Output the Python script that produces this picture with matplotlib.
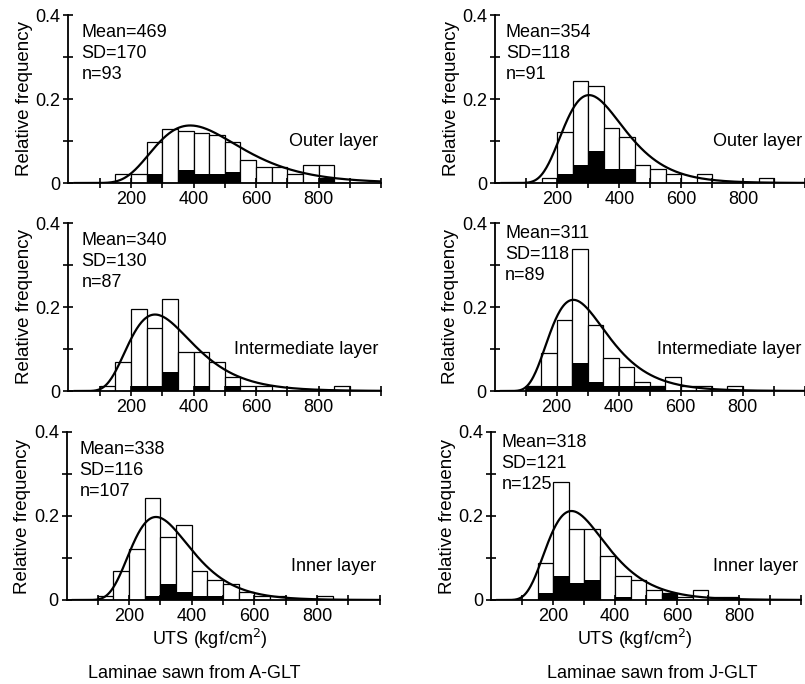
import numpy as np
import matplotlib
matplotlib.use("Agg")
import matplotlib.pyplot as plt

plt.rcParams['font.family'] = ['Liberation Sans', 'DejaVu Sans']

# bin starts, 50 kgf/cm2 wide
bins = [100, 150, 200, 250, 300, 350, 400, 450, 500, 550, 600, 650, 700, 750, 800, 850, 900]

# A-GLT, outer layer
a_outer_total = [0, 0.0215, 0.0215, 0.097, 0.129, 0.125, 0.118, 0.115, 0.097, 0.054, 0.038, 0.038, 0.0215, 0.043, 0.043, 0, 0]
a_outer_black = [0, 0, 0, 0.0215, 0, 0.032, 0.0215, 0.0215, 0.027, 0, 0, 0, 0, 0, 0.0108, 0, 0]
# J-GLT, outer layer
j_outer_total = [0, 0.011, 0.121, 0.242, 0.231, 0.132, 0.110, 0.044, 0.033, 0.022, 0, 0.022, 0, 0, 0, 0.011, 0]
j_outer_black = [0, 0, 0.022, 0.044, 0.077, 0.033, 0.033, 0, 0, 0, 0, 0, 0, 0, 0, 0, 0]
# A-GLT, intermediate layer
a_inter_total = [0.0115, 0.069, 0.195, 0.149, 0.218, 0.092, 0.092, 0.069, 0.0345, 0.0115, 0.0115, 0, 0, 0, 0, 0.0115, 0]
a_inter_black = [0, 0, 0.0115, 0.0115, 0.046, 0, 0.0115, 0, 0.0115, 0, 0, 0, 0, 0, 0, 0, 0]
# J-GLT, intermediate layer
j_inter_total = [0.011, 0.090, 0.169, 0.337, 0.157, 0.079, 0.056, 0.0225, 0.011, 0.034, 0.011, 0.011, 0, 0.011, 0, 0, 0]
j_inter_black = [0.011, 0.011, 0.011, 0.067, 0.0225, 0.011, 0.011, 0.011, 0.011, 0, 0, 0, 0, 0, 0, 0, 0]
# A-GLT, inner layer
a_inner_total = [0.0093, 0.070, 0.121, 0.243, 0.1495, 0.178, 0.070, 0.047, 0.037, 0.0187, 0.0093, 0.0093, 0, 0, 0.0093, 0, 0]
a_inner_black = [0, 0, 0, 0.0093, 0.037, 0.0187, 0.0093, 0.0093, 0, 0, 0, 0, 0, 0, 0, 0, 0]
# J-GLT, inner layer
j_inner_total = [0, 0.088, 0.280, 0.168, 0.168, 0.104, 0.056, 0.048, 0.024, 0.016, 0.008, 0.024, 0.008, 0.008, 0, 0, 0]
j_inner_black = [0, 0.016, 0.056, 0.040, 0.048, 0, 0.008, 0, 0, 0.016, 0, 0, 0, 0, 0, 0, 0]

# stats printed in each panel: mean, SD, n
a_stats = [(469, 170, 93), (340, 130, 87), (338, 116, 107)]
j_stats = [(354, 118, 91), (311, 118, 89), (318, 121, 125)]
# fitted curve peak relative to a plain log-normal of mean/SD
a_fit_scale = [1.0, 1.0, 1.0]
j_fit_scale = [1.085, 1.085, 1.085]
layer_names = ['Outer layer', 'Intermediate layer', 'Inner layer']
layer_y = [0.1, 0.098, 0.08]

W, H = 805, 684
fig = plt.figure(figsize=(W / 100, H / 100), dpi=100)


def lognormal_fit(x, mean, sd, width=50):
    # log-normal with the given mean and SD, scaled to relative frequency per bin
    s2 = np.log(1 + (sd / mean) ** 2)
    mu = np.log(mean) - s2 / 2
    return width * np.exp(-(np.log(x) - mu) ** 2 / (2 * s2)) / (x * np.sqrt(2 * np.pi * s2))


def panel(x0, y0, w, total, black, stats, fit_scale, name, ny, text_x, text_y):
    # x0: pixel of UTS=0, y0: pixel of freq=0, w: pixels for 0..1000; 0.1 = 42 px
    ax = fig.add_axes([x0 / W, 1 - y0 / H, w / W, 168 / H])
    ax.bar(bins, total, width=50, align='edge', facecolor='white', edgecolor='black', linewidth=0.9)
    ax.bar(bins, black, width=50, align='edge', color='black', linewidth=0)
    x = np.linspace(20, 1000, 400)
    ax.plot(x, fit_scale * lognormal_fit(x, stats[0], stats[1]), color='black', lw=1.6)
    ax.set_xlim(0, 1000)
    ax.set_ylim(0, 0.4)
    for s in ['top', 'right']:
        ax.spines[s].set_visible(False)
    for s in ['left', 'bottom']:
        ax.spines[s].set_linewidth(1.3)
    ax.set_xticks(range(100, 1001, 100))
    ax.set_xticklabels(['', '200', '', '400', '', '600', '', '800', '', ''])
    ax.set_yticks([0, 0.1, 0.2, 0.3, 0.4])
    ax.set_yticklabels(['0', '', '0.2', '', '0.4'])
    ax.tick_params(direction='inout', length=7, width=1.2, labelsize=13, pad=2)
    ax.set_ylabel('Relative frequency', fontsize=13.5, labelpad=2)
    ax.patch.set_alpha(0)
    ax.text(text_x, text_y, 'Mean=%d\nSD=%d\nn=%d' % stats, fontsize=13, va='top', ha='left',
            linespacing=1.3, clip_on=False)
    ax.text(990, ny, name, fontsize=13, ha='right', va='center')
    return ax


rows_y0 = [183, 391, 600]
a_data = [(a_outer_total, a_outer_black), (a_inter_total, a_inter_black), (a_inner_total, a_inner_black)]
j_data = [(j_outer_total, j_outer_black), (j_inter_total, j_inter_black), (j_inner_total, j_inner_black)]
left_x0 = [68.3, 68.3, 66.5]
right_x0 = [495.3, 494.5, 491]
left_text_y = [0.378, 0.378, 0.378]
right_text_y = [0.378, 0.395, 0.395]

for i in range(3):
    panel(left_x0[i], rows_y0[i], 313, a_data[i][0], a_data[i][1], a_stats[i], a_fit_scale[i],
          layer_names[i], layer_y[i], 42, left_text_y[i])
    panel(right_x0[i], rows_y0[i], 310, j_data[i][0], j_data[i][1], j_stats[i], j_fit_scale[i],
          layer_names[i], layer_y[i], 34, right_text_y[i])

fig.text(210 / W, 1 - 639 / H, 'UTS (kgf/cm$^2$)', fontsize=13, ha='center', va='center')
fig.text(635 / W, 1 - 639 / H, 'UTS (kgf/cm$^2$)', fontsize=13, ha='center', va='center')
fig.text(194 / W, 1 - 673 / H, 'Laminae sawn from A-GLT', fontsize=13, ha='center', va='center')
fig.text(652 / W, 1 - 673 / H, 'Laminae sawn from J-GLT', fontsize=13, ha='center', va='center')

fig.savefig('out.png', dpi=100)
